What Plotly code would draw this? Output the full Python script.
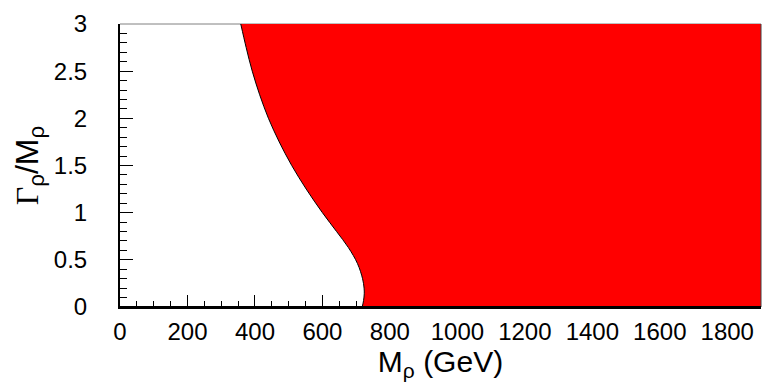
import plotly.graph_objects as go

# Boundary of the excluded region: width/mass ratio vs. resonance mass (GeV)
gamma_over_m = [0.0, 0.07, 0.14, 0.2, 0.3, 0.46, 0.63, 0.8, 1.0, 1.25, 1.5, 1.75, 2.0, 2.25, 2.5, 2.75, 3.0]
mass_gev = [718, 722, 724, 723.5, 719, 704, 677, 642, 600, 552, 509, 472, 440, 414, 392, 374, 358]

x_max = 1900
y_max = 3.0
x_ticks = [0, 200, 400, 600, 800, 1000, 1200, 1400, 1600, 1800]
y_ticks = [0, 0.5, 1, 1.5, 2, 2.5, 3]
y_tick_text = ["0", "0.5", "1", "1.5", "2", "2.5", "3"]

font_main = "Liberation Sans, Arial, sans-serif"

fig = go.Figure()

# Right edge of the frame, used as the far side of the filled region
fig.add_trace(go.Scatter(
    x=[x_max, x_max],
    y=[0.0, y_max],
    mode="lines",
    line=dict(width=0, color="rgba(0,0,0,0)"),
    hoverinfo="skip",
    showlegend=False,
))

# Boundary curve; the excluded area to its right is filled red
fig.add_trace(go.Scatter(
    x=mass_gev,
    y=gamma_over_m,
    mode="lines",
    line=dict(color="black", width=1, shape="spline", smoothing=1.0),
    fill="tonextx",
    fillcolor="#ff0000",
    showlegend=False,
))

fig.update_layout(
    width=771,
    height=388,
    margin=dict(l=120, r=10, t=20, b=81),
    paper_bgcolor="white",
    plot_bgcolor="white",
    font=dict(family=font_main, color="black", size=24),
    shapes=[
        # top and right frame edges
        dict(type="line", xref="paper", yref="paper", x0=0, x1=1, y0=1, y1=1,
             line=dict(color="#808080", width=1), layer="below"),
        dict(type="line", xref="paper", yref="paper", x0=1, x1=1, y0=0, y1=1,
             line=dict(color="#404040", width=1), layer="above"),
        # bottom axis line kept on top of the fill
        dict(type="line", xref="paper", yref="paper", x0=0, x1=1, y0=0, y1=0,
             line=dict(color="black", width=2), layer="above"),
    ],
)

fig.update_xaxes(
    range=[0, x_max],
    showgrid=False,
    zeroline=False,
    showline=True,
    linecolor="black",
    linewidth=2,
    layer="below traces",
    tickmode="array",
    tickvals=x_ticks,
    ticktext=[str(v) for v in x_ticks],
    ticks="inside",
    ticklen=12,
    tickwidth=1,
    tickcolor="black",
    minor=dict(dtick=50, tick0=0, ticks="inside", ticklen=6, tickwidth=1, tickcolor="black"),
    tickfont=dict(size=24, family=font_main),
    ticklabelstandoff=2,
    title=dict(text="M<sub>ρ</sub> (GeV)", font=dict(size=30, family=font_main), standoff=4),
)

fig.update_yaxes(
    range=[0, y_max],
    showgrid=False,
    zeroline=False,
    showline=True,
    linecolor="black",
    linewidth=2,
    layer="below traces",
    tickmode="array",
    tickvals=y_ticks,
    ticktext=y_tick_text,
    ticks="inside",
    ticklen=13,
    tickwidth=1,
    tickcolor="black",
    minor=dict(dtick=0.1, tick0=0, ticks="inside", ticklen=7, tickwidth=1, tickcolor="black"),
    tickfont=dict(size=24, family=font_main),
    ticklabelstandoff=26,
    title=dict(
        text="<span style='font-family:Liberation Serif, Times New Roman, serif'>Γ</span>"
             "<sub>ρ</sub>/M<sub>ρ</sub>",
        font=dict(size=32, family=font_main),
        standoff=6,
    ),
)

fig.write_html("out.html")
